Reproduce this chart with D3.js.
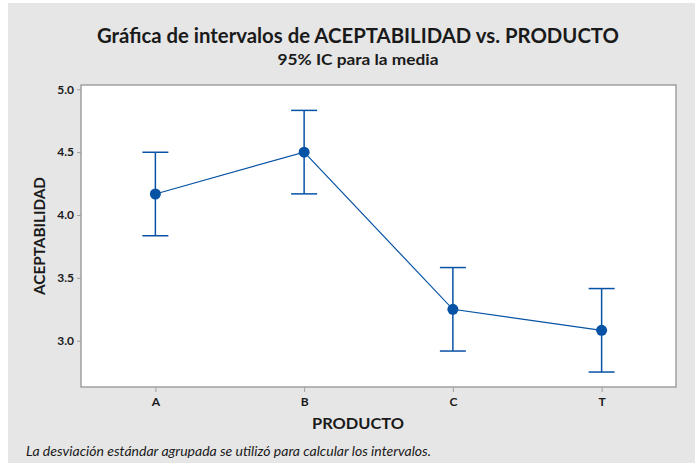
<!DOCTYPE html>
<html>
<head>
<meta charset="utf-8">
<script src="https://cdn.jsdelivr.net/npm/d3@7"></script>
<style>
  html, body { margin: 0; padding: 0; background: #ffffff; }
  svg { display: block; }
  text { font-family: Lato, "Open Sans", sans-serif; fill: #1a1a1a; }
</style>
</head>
<body>
<script>
// Interval plot data: mean and 95% CI for each product
const productos = ["A", "B", "C", "T"];
const medias = [4.167, 4.5, 3.25, 3.083];
const limInf = [3.835, 4.168, 2.918, 2.751];
const limSup = [4.499, 4.832, 3.582, 3.415];
const yTicks = [3.0, 3.5, 4.0, 4.5, 5.0];

const W = 697, H = 465;
const plot = { left: 81, top: 85, right: 676, bottom: 387 };
const azul = "#0652a5";

const svg = d3.select("body").append("svg")
  .attr("width", W).attr("height", H);

// page frame
svg.append("rect").attr("x", 8).attr("y", 3).attr("width", W - 10).attr("height", H - 5)
  .attr("fill", "#e6e6e6");

// titles
svg.append("text").attr("x", 358).attr("y", 43).attr("text-anchor", "middle")
  .attr("font-size", 20).attr("font-weight", 700)
  .attr("textLength", 522).attr("lengthAdjust", "spacingAndGlyphs")
  .text("Gráfica de intervalos de ACEPTABILIDAD vs. PRODUCTO");
svg.append("text").attr("x", 358).attr("y", 65).attr("text-anchor", "middle")
  .attr("font-size", 15).attr("font-weight", 700)
  .attr("textLength", 161).attr("lengthAdjust", "spacingAndGlyphs")
  .text("95% IC para la media");

// scales
const x = d3.scalePoint().domain(productos)
  .range([plot.left, plot.right]).padding(0.5);
const y = d3.scaleLinear().domain([2.632, 5.034])
  .range([plot.bottom, plot.top]);

// plot background
svg.append("rect").attr("x", plot.left).attr("y", plot.top)
  .attr("width", plot.right - plot.left).attr("height", plot.bottom - plot.top)
  .attr("fill", "#ffffff").attr("stroke", "#a0a0a0").attr("stroke-width", 1.5);

// axes
const yAxis = svg.append("g").attr("transform", `translate(${plot.left},0)`)
  .call(d3.axisLeft(y).tickValues(yTicks).tickFormat(d3.format(".1f")).tickSize(4).tickPadding(3));
const xAxis = svg.append("g").attr("transform", `translate(0,${plot.bottom})`)
  .call(d3.axisBottom(x).tickSize(5).tickPadding(5));
[yAxis, xAxis].forEach(g => {
  g.select(".domain").remove();
  g.selectAll(".tick line").attr("stroke", "#a0a0a0");
  g.selectAll(".tick text").attr("font-size", 12).attr("font-weight", 700)
    .attr("fill", "#1a1a1a").style("font-family", "Lato, sans-serif");
});

// axis titles
svg.append("text").attr("x", 358).attr("y", 429).attr("text-anchor", "middle")
  .attr("font-size", 16).attr("font-weight", 700)
  .attr("textLength", 92).attr("lengthAdjust", "spacingAndGlyphs")
  .text("PRODUCTO");
svg.append("text").attr("transform", "translate(45,236) rotate(-90)")
  .attr("text-anchor", "middle").attr("font-size", 16).attr("font-weight", 700)
  .attr("textLength", 118).attr("lengthAdjust", "spacingAndGlyphs")
  .text("ACEPTABILIDAD");

// footnote
svg.append("text").attr("x", 26).attr("y", 456)
  .attr("font-size", 12.5).attr("font-style", "italic")
  .attr("textLength", 405).attr("lengthAdjust", "spacingAndGlyphs")
  .text("La desviación estándar agrupada se utilizó para calcular los intervalos.");

const datos = productos.map((p, i) => ({ p, m: medias[i], lo: limInf[i], hi: limSup[i] }));

// interval bars
const cap = 13;
const barras = svg.append("g").attr("stroke", azul).attr("stroke-width", 1.5).attr("fill", "none");
datos.forEach(d => {
  barras.append("line").attr("x1", x(d.p)).attr("x2", x(d.p)).attr("y1", y(d.hi)).attr("y2", y(d.lo));
  barras.append("line").attr("x1", x(d.p) - cap).attr("x2", x(d.p) + cap).attr("y1", y(d.hi)).attr("y2", y(d.hi));
  barras.append("line").attr("x1", x(d.p) - cap).attr("x2", x(d.p) + cap).attr("y1", y(d.lo)).attr("y2", y(d.lo));
});

// connect means
svg.append("path").datum(datos)
  .attr("d", d3.line().x(d => x(d.p)).y(d => y(d.m)))
  .attr("fill", "none").attr("stroke", azul).attr("stroke-width", 1.2);

svg.append("g").selectAll("circle").data(datos).join("circle")
  .attr("cx", d => x(d.p)).attr("cy", d => y(d.m)).attr("r", 5.5)
  .attr("fill", azul);
</script>
</body>
</html>
